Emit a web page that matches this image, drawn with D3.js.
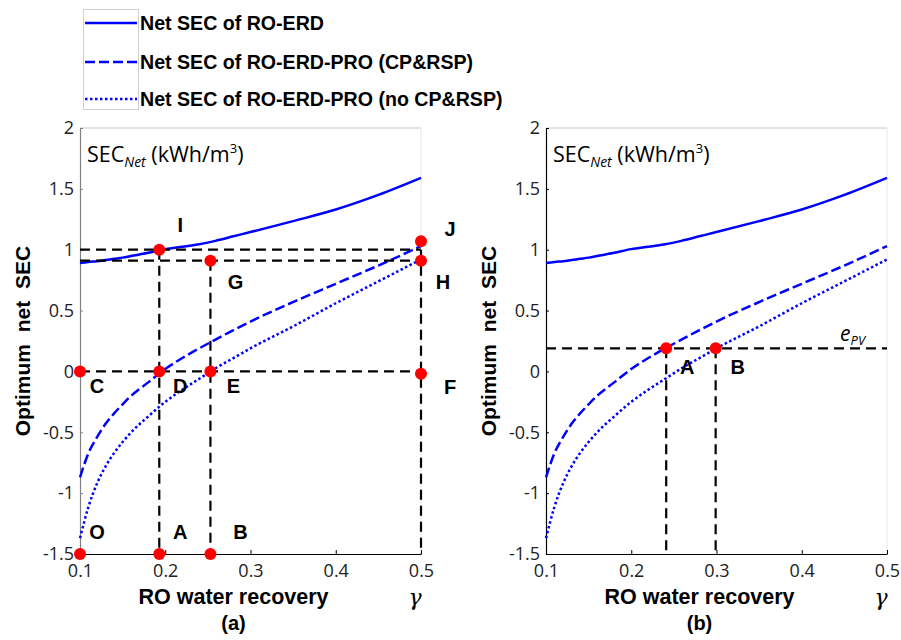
<!DOCTYPE html>
<html>
<head>
<meta charset="utf-8">
<script src="https://cdn.jsdelivr.net/npm/d3@7"></script>
<style>
  body { margin: 0; background: #fff; }
  .tick-label { font-family: "Open Sans", sans-serif; font-size: 18px; fill: #222; }
  .bold { font-family: "Liberation Sans", Arial, sans-serif; font-weight: bold; fill: #000; }
  .note { font-family: "Open Sans", sans-serif; fill: #000; }
</style>
</head>
<body>
<svg id="chart" width="901" height="640"></svg>
<script>
// data
const recovery   = [0.1, 0.11, 0.12, 0.13, 0.14, 0.15, 0.16, 0.18, 0.2, 0.22, 0.24, 0.26, 0.28, 0.3, 0.35, 0.4, 0.45, 0.5];
const secRoErd   = [0.89, 0.90, 0.905, 0.915, 0.925, 0.935, 0.948, 0.975, 1.005, 1.025, 1.045, 1.075, 1.11, 1.145, 1.235, 1.33, 1.45, 1.59];
const secCpRsp   = [-0.87, -0.67, -0.54, -0.43, -0.345, -0.27, -0.2, -0.09, 0.02, 0.11, 0.19, 0.265, 0.34, 0.41, 0.57, 0.72, 0.87, 1.03];
const secNoCpRsp = [-1.37, -1.11, -0.92, -0.78, -0.67, -0.58, -0.50, -0.37, -0.25, -0.15, -0.06, 0.03, 0.11, 0.19, 0.37, 0.56, 0.74, 0.92];

const xTicks = [0.1, 0.2, 0.3, 0.4, 0.5];
const yTicks = [-1.5, -1, -0.5, 0, 0.5, 1, 1.5, 2];

const seriesNames = ["Net SEC of RO-ERD", "Net SEC of RO-ERD-PRO (CP&RSP)", "Net SEC of RO-ERD-PRO (no CP&RSP)"];

// panel (a) marked points
const pointsA = [
  {name: "I", x: 0.193, y: 1.0},
  {name: "J", x: 0.5, y: 1.07},
  {name: "G", x: 0.253, y: 0.91},
  {name: "H", x: 0.5, y: 0.91},
  {name: "C", x: 0.1, y: 0},
  {name: "D", x: 0.193, y: 0},
  {name: "E", x: 0.253, y: 0},
  {name: "F", x: 0.5, y: -0.02},
  {name: "O", x: 0.1, y: -1.5},
  {name: "A", x: 0.193, y: -1.5},
  {name: "B", x: 0.253, y: -1.5}
];
// panel (a) guide lines [x1, y1, x2, y2]
const guidesA = [
  [0.1, 1.0, 0.5, 1.0],
  [0.1, 0.91, 0.5, 0.91],
  [0.1, 0, 0.5, 0],
  [0.193, 1.0, 0.193, -1.5],
  [0.253, 0.91, 0.253, -1.5],
  [0.5, 1.0, 0.5, -1.5]
];

// panel (b)
const ePV = 0.19;
const pointsB = [
  {name: "A", x: 0.241, y: 0.19},
  {name: "B", x: 0.299, y: 0.19}
];
const guidesB = [
  [0.1, ePV, 0.5, ePV],
  [0.241, ePV, 0.241, -1.5],
  [0.299, ePV, 0.299, -1.5]
];

// label offsets (px) from their point
const labelOffset = {
  a: {I: [21, -25], J: [29, -12], G: [25, 21], H: [22, 21], C: [17, 15], D: [21, 15],
      E: [23, 15], F: [29, 13], O: [17, -22], A: [21, -22], B: [30, -22]},
  b: {A: [21, 19], B: [22, 19]}
};

const blue = "#0000ff";
const lineStyles = [
  {dash: null},
  {dash: "10,4"},
  {dash: "2.5,2.5"}
];

const svg = d3.select("#chart");
svg.append("rect").attr("width", 901).attr("height", 640).attr("fill", "#fff");

const y = d3.scaleLinear().domain([-1.5, 2]).range([554, 128]);

const line = (x, vals) => d3.line()
  .x((d, i) => x(recovery[i]))
  .y(d => y(d))
  .curve(d3.curveMonotoneX)(vals);

function drawPanel(left, right, opts) {
  const x = d3.scaleLinear().domain([0.1, 0.5]).range([left, right]);
  const g = svg.append("g");

  // box lines
  g.append("line").attr("x1", left).attr("x2", right).attr("y1", y(2)).attr("y2", y(2))
    .attr("stroke", "#c8c8c8").attr("stroke-width", 1);
  g.append("line").attr("x1", right).attr("x2", right).attr("y1", y(2)).attr("y2", y(-1.5))
    .attr("stroke", "#e8e8e8").attr("stroke-width", 1);

  // axes
  const xAxis = g.append("g").attr("transform", `translate(0,${y(-1.5)})`)
    .call(d3.axisBottom(x).tickValues(xTicks).tickSizeInner(-4).tickSizeOuter(0).tickPadding(8).tickFormat(d => String(d)));
  xAxis.select(".domain").attr("stroke", "#000").attr("stroke-width", 1.2);
  xAxis.selectAll(".tick line").attr("stroke", "#000");
  xAxis.selectAll("text").attr("class", "tick-label").attr("fill", null).attr("dy", "0.85em");

  const yAxis = g.append("g").attr("transform", `translate(${left},0)`)
    .call(d3.axisLeft(y).tickValues(yTicks).tickSizeInner(-3).tickSizeOuter(0).tickPadding(6).tickFormat(d => String(d)));
  yAxis.select(".domain").attr("stroke", opts.yAxisColor).attr("stroke-width", 1.2);
  yAxis.selectAll(".tick line").attr("stroke", opts.yAxisColor);
  yAxis.selectAll("text").attr("class", "tick-label").attr("fill", null);

  // curves
  [secRoErd, secCpRsp, secNoCpRsp].forEach((vals, i) => {
    g.append("path").attr("d", line(x, vals)).attr("fill", "none")
      .attr("stroke", blue).attr("stroke-width", 2.5)
      .attr("stroke-dasharray", lineStyles[i].dash);
  });

  // guides
  g.selectAll(".guide").data(opts.guides).join("line")
    .attr("x1", d => x(d[0])).attr("y1", d => y(d[1]))
    .attr("x2", d => x(d[2])).attr("y2", d => y(d[3]))
    .attr("stroke", "#000").attr("stroke-width", 2.2).attr("stroke-dasharray", "10,6");

  // points
  g.selectAll(".pt").data(opts.points).join("circle")
    .attr("cx", d => x(d.x)).attr("cy", d => y(d.y)).attr("r", 6).attr("fill", "#ff0000");

  g.selectAll(".pl").data(opts.points).join("text").attr("class", "bold")
    .attr("x", d => x(d.x) + opts.offsets[d.name][0])
    .attr("y", d => y(d.y) + opts.offsets[d.name][1])
    .attr("text-anchor", "middle").attr("dominant-baseline", "central")
    .attr("font-size", 20).text(d => d.name);

  // SEC_Net annotation
  const t = g.append("text").attr("class", "note").attr("x", left + 7).attr("y", 162).attr("font-size", 21.5);
  t.append("tspan").text("SEC");
  t.append("tspan").attr("dy", 5).attr("font-size", 14).attr("font-style", "italic").text("Net");
  t.append("tspan").attr("dy", -5).text(" (kWh/m");
  t.append("tspan").attr("dy", -9).attr("font-size", 13).text("3");
  t.append("tspan").attr("dy", 9).text(")");

  // axis titles
  const mid = (left + right) / 2;
  g.append("text").attr("class", "bold").attr("x", mid - 17).attr("y", 604)
    .attr("text-anchor", "middle").attr("font-size", 21.5).text("RO water recovery");
  g.append("text").attr("x", right - 6).attr("y", 605)
    .attr("text-anchor", "middle").attr("font-size", 22).attr("font-style", "italic")
    .attr("font-family", "DejaVu Serif, serif").text("γ");
  g.append("text").attr("class", "bold").attr("x", mid - 17).attr("y", 630)
    .attr("text-anchor", "middle").attr("font-size", 20).text(opts.tag);
  g.append("text").attr("class", "bold")
    .attr("transform", `translate(${left - 58},341) rotate(-90)`)
    .attr("text-anchor", "middle").attr("dominant-baseline", "central")
    .attr("font-size", 21).attr("word-spacing", 6).text("Optimum net SEC");

  if (opts.extra) opts.extra(g, x);
}

drawPanel(80, 421, {
  yAxisColor: "#808080", guides: guidesA, points: pointsA, offsets: labelOffset.a, tag: "(a)"
});

drawPanel(546, 887, {
  yAxisColor: "#000", guides: guidesB, points: pointsB, offsets: labelOffset.b, tag: "(b)",
  extra: (g, x) => {
    const e = g.append("text").attr("class", "note").attr("x", x(0.445)).attr("y", y(ePV) - 7)
      .attr("font-size", 21).attr("font-style", "italic");
    e.append("tspan").text("e");
    e.append("tspan").attr("dy", 4).attr("font-size", 13).text("PV");
  }
});

// legend
const legend = svg.append("g");
legend.append("rect").attr("x", 83.5).attr("y", 9.5).attr("width", 55).attr("height", 100)
  .attr("fill", "none").attr("stroke", "#d0d0d0");
const legendY = [23, 62, 99];
seriesNames.forEach((name, i) => {
  legend.append("line").attr("x1", 85).attr("x2", 137).attr("y1", legendY[i]).attr("y2", legendY[i])
    .attr("stroke", blue).attr("stroke-width", 2.5).attr("stroke-dasharray", lineStyles[i].dash);
  legend.append("text").attr("class", "bold").attr("x", 140).attr("y", legendY[i])
    .attr("dominant-baseline", "central").attr("font-size", 19.6).text(name);
});
</script>
</body>
</html>
